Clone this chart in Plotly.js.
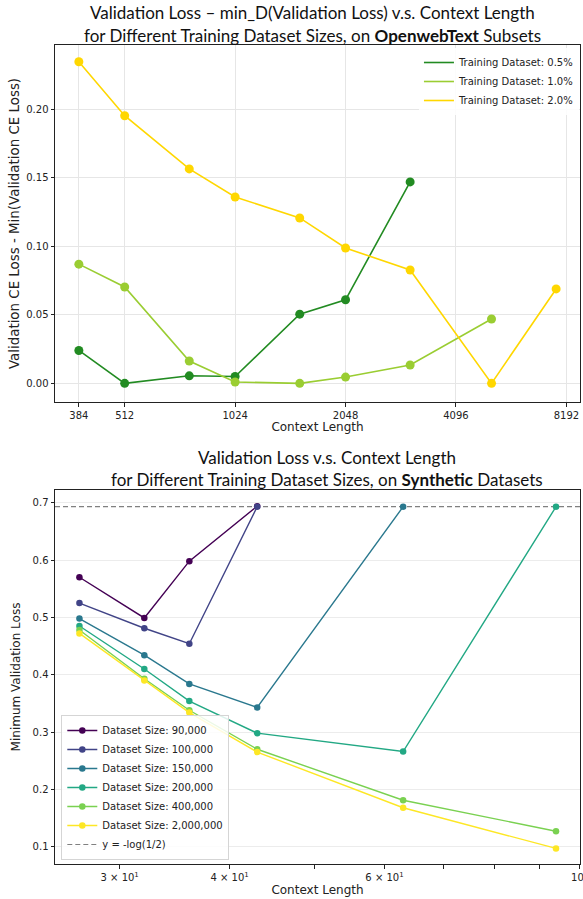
<!DOCTYPE html>
<html>
<head>
<meta charset="utf-8">
<script src="https://cdn.plot.ly/plotly-3.0.1.min.js"></script>
<style>html,body{margin:0;padding:0;background:#fff;}#chart{width:583px;height:899px;}</style>
</head>
<body>
<div id="chart"></div>
<script>
// ---- Top chart: OpenwebText subsets ----
const ctxTop = [384, 512, 768, 1024, 1536, 2048, 3072, 5120, 7680];
const topTicks = [384, 512, 1024, 2048, 4096, 8192];
const topTickText = ['384', '512', '1024', '2048', '4096', '8192'];
const topNames = ['Training Dataset: 0.5%', 'Training Dataset: 1.0%', 'Training Dataset: 2.0%'];
const loss05 = [0.024, 0.0, 0.0055, 0.005, 0.0505, 0.061, 0.147, null, null];
const loss10 = [0.087, 0.0703, 0.0163, 0.001, 0.0, 0.0046, 0.0134, 0.047, null];
const loss20 = [0.2347, 0.1953, 0.1565, 0.136, 0.1207, 0.0988, 0.0827, 0.0, 0.0689];
const topColors = ['#228B22', '#9ACD32', '#FFD700'];

// ---- Bottom chart: Synthetic datasets ----
const ctxBot = [27, 32, 36, 43, 63, 94];
const botNames = ['Dataset Size: 90,000', 'Dataset Size: 100,000', 'Dataset Size: 150,000',
                  'Dataset Size: 200,000', 'Dataset Size: 400,000', 'Dataset Size: 2,000,000'];
const size90k  = [0.570, 0.499, 0.598, 0.694, null, null];
const size100k = [0.525, 0.481, 0.454, 0.693, null, null];
const size150k = [0.498, 0.434, 0.384, 0.343, 0.693, null];
const size200k = [0.485, 0.410, 0.354, 0.298, 0.266, 0.693];
const size400k = [0.478, 0.393, 0.338, 0.270, 0.181, 0.127];
const size2m   = [0.472, 0.390, 0.334, 0.265, 0.168, 0.097];
const botColors = ['#440154', '#414487', '#2a788e', '#22a884', '#7ad151', '#fde725'];
const botTicks = [30, 40, 50, 60, 70, 80, 90, 100];
const botTickText = ['3 × 10<sup>1</sup>', '4 × 10<sup>1</sup>', ' ', '6 × 10<sup>1</sup>', ' ', ' ', ' ', '10<sup>2</sup>'];
const refLossValue = -Math.log(1 / 2);
const refLossName = 'y = -log(1/2)';

const MPL = 'DejaVu Sans';
const tickFont = {family: MPL, size: 10, color: '#222'};
const titleFont = {family: MPL, size: 12, color: '#222'};

const traces = [];
[loss05, loss10, loss20].forEach((ys, i) => {
  traces.push({
    x: ctxTop, y: ys, type: 'scatter', mode: 'lines+markers',
    line: {color: topColors[i], width: 1.6}, marker: {color: topColors[i], size: 9},
    xaxis: 'x', yaxis: 'y', showlegend: false, name: topNames[i], hoverinfo: 'x+y'
  });
  // legend entry drawn as a line only (as in the reference)
  traces.push({
    x: [null], y: [null], type: 'scatter', mode: 'lines',
    line: {color: topColors[i], width: 1.6}, xaxis: 'x', yaxis: 'y',
    name: topNames[i], legend: 'legend', showlegend: true
  });
});
[size90k, size100k, size150k, size200k, size400k, size2m].forEach((ys, i) => {
  traces.push({
    x: ctxBot, y: ys, type: 'scatter', mode: 'lines+markers',
    line: {color: botColors[i], width: 1.4}, marker: {color: botColors[i], size: 6.5},
    xaxis: 'x2', yaxis: 'y2', name: botNames[i], legend: 'legend2'
  });
});

const H = 899;
const layout = {
  width: 583, height: 899,
  margin: {l: 55, r: 3, t: 0, b: 0},
  paper_bgcolor: '#fff', plot_bgcolor: '#fff',
  font: {family: MPL},
  showlegend: true,
  xaxis: {
    type: 'log', domain: [0, 1], anchor: 'y',
    range: [Math.log10(Math.pow(2, 8.369)), Math.log10(Math.pow(2, 13.123))],
    tickvals: topTicks, ticktext: topTickText, tickfont: tickFont, ticklabeloverflow: 'allow',
    ticks: 'outside', ticklen: 3.5, tickcolor: '#222',
    showgrid: true, gridcolor: '#e6e6e6', gridwidth: 1,
    showline: true, linecolor: '#222', linewidth: 1, mirror: true,
    zeroline: false, automargin: false,
    title: {text: 'Context Length', font: titleFont, standoff: 3}
  },
  yaxis: {
    domain: [1 - 402 / H, 1 - 45 / H], anchor: 'x',
    range: [-0.0136, 0.2469],
    tickvals: [0, 0.05, 0.10, 0.15, 0.20], tickformat: '.2f', tickfont: tickFont,
    ticks: 'outside', ticklen: 3.5, tickcolor: '#222',
    showgrid: true, gridcolor: '#e6e6e6', gridwidth: 1,
    showline: true, linecolor: '#222', linewidth: 1, mirror: true,
    zeroline: false, automargin: false,
    title: {text: 'Validation CE Loss - Min(Validation CE Loss)', font: {family: MPL, size: 13.4, color: '#222'}, standoff: 3}
  },
  xaxis2: {
    type: 'log', domain: [0, 1], anchor: 'y2',
    range: [1.4036, 2.0004],
    tickvals: botTicks, ticktext: botTickText, tickfont: tickFont, ticklabeloverflow: 'allow',
    ticks: 'outside', ticklen: 3.5, tickcolor: '#222',
    showgrid: false,
    showline: true, linecolor: '#222', linewidth: 1, mirror: true,
    zeroline: false, automargin: false,
    title: {text: 'Context Length', font: titleFont, standoff: 3}
  },
  yaxis2: {
    domain: [1 - 864.3 / H, 1 - 489.7 / H], anchor: 'x2',
    range: [0.0693, 0.7227],
    tickvals: [0.1, 0.2, 0.3, 0.4, 0.5, 0.6, 0.7], tickformat: '.1f', tickfont: tickFont,
    ticks: 'outside', ticklen: 3.5, tickcolor: '#222',
    showgrid: true, gridcolor: '#ececec', gridwidth: 1,
    showline: true, linecolor: '#222', linewidth: 1, mirror: true,
    zeroline: false, automargin: false,
    title: {text: 'Minimum Validation Loss', font: titleFont, standoff: 9}
  },
  legend: {
    x: 0.998, xanchor: 'right', y: 1 - 48 / H, yanchor: 'top',
    bgcolor: 'rgba(255,255,255,0.85)', borderwidth: 0,
    font: {family: MPL, size: 10, color: '#222'},
    itemwidth: 30, tracegroupgap: 0
  },
  legend2: {
    x: 0.012, xanchor: 'left', y: 1 - 860 / H, yanchor: 'bottom',
    bgcolor: 'rgba(255,255,255,0.85)', bordercolor: '#d5d5d5', borderwidth: 1,
    font: {family: MPL, size: 10, color: '#222'},
    itemwidth: 30, tracegroupgap: 0
  },
  shapes: [{
    type: 'line', xref: 'x2 domain', x0: 0, x1: 1, yref: 'y2', y0: refLossValue, y1: refLossValue,
    line: {color: '#808080', width: 1.1, dash: '5px,3px'},
    showlegend: true, name: refLossName, legend: 'legend2', layer: 'below'
  }],
  annotations: [
    {text: 'Validation Loss – min_D(Validation Loss) v.s. Context Length', xref: 'paper', yref: 'paper',
     x: (312 - 55) / 525, y: 1 - 13 / H, xanchor: 'center', yanchor: 'middle', showarrow: false,
     font: {family: 'Lato', size: 17, color: '#111'}},
    {text: 'for Different Training Dataset Sizes, on <b>OpenwebText</b> Subsets', xref: 'paper', yref: 'paper',
     x: (312 - 55) / 525, y: 1 - 35 / H, xanchor: 'center', yanchor: 'middle', showarrow: false,
     font: {family: 'Lato', size: 17, color: '#111'}},
    {text: 'Validation Loss v.s. Context Length', xref: 'paper', yref: 'paper',
     x: (327 - 55) / 525, y: 1 - 457 / H, xanchor: 'center', yanchor: 'middle', showarrow: false,
     font: {family: 'Lato', size: 17, color: '#111'}},
    {text: 'for Different Training Dataset Sizes, on <b>Synthetic</b> Datasets', xref: 'paper', yref: 'paper',
     x: (327 - 55) / 525, y: 1 - 479 / H, xanchor: 'center', yanchor: 'middle', showarrow: false,
     font: {family: 'Lato', size: 17, color: '#111'}}
  ]
};

Plotly.newPlot('chart', traces, layout, {displayModeBar: false, responsive: false, staticPlot: true});
</script>
</body>
</html>
